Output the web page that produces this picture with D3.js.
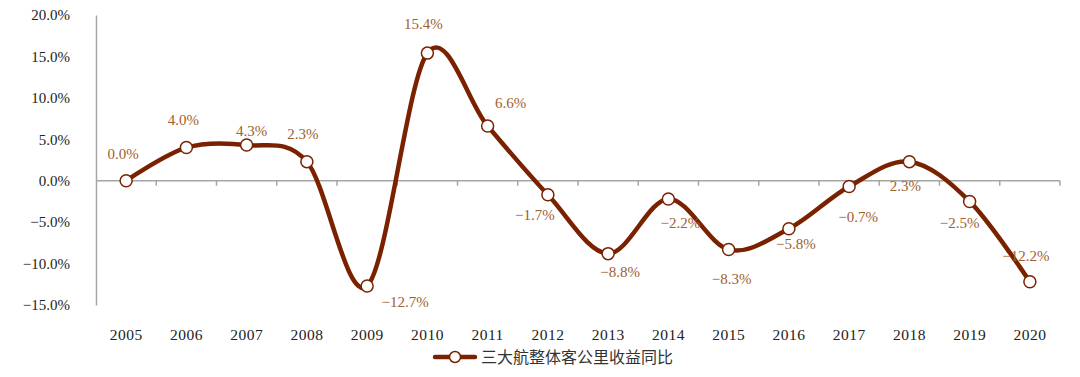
<!DOCTYPE html>
<html>
<head>
<meta charset="utf-8">
<script src="https://cdn.jsdelivr.net/npm/d3@7"></script>
<style>
  body { margin: 0; background: #fff; }
</style>
</head>
<body>
<div id="chart"></div>
<script>
  // data
  var years = ["2005", "2006", "2007", "2008", "2009", "2010", "2011", "2012",
               "2013", "2014", "2015", "2016", "2017", "2018", "2019", "2020"];
  var yoy = [0.0, 4.0, 4.3, 2.3, -12.7, 15.4, 6.6, -1.7, -8.8, -2.2, -8.3, -5.8, -0.7, 2.3, -2.5, -12.2];
  var yTicks = [-15, -10, -5, 0, 5, 10, 15, 20];
  var seriesName = "三大航整体客公里收益同比";

  // where each value label sits relative to its point
  var labelOffsets = [[-3, -27], [-3, -28], [5, -14], [-4, -28], [38, 16], [-4, -29],
                      [23, -23], [-13, 20], [12, 18], [12, 24], [3, 29], [7, 15],
                      [9, 30], [-4, 24], [-10, 21], [-4, -26]];

  var width = 1080, height = 377;
  var serif = "'Liberation Serif', 'Times New Roman', 'DejaVu Serif', serif";
  var lineColor = "#7a2200";
  var labelColor = "#a0602e";
  var axisColor = "#a6a6a6";

  var svg = d3.select("#chart")
      .append("svg")
      .attr("width", width)
      .attr("height", height);

  var x = d3.scaleBand()
      .domain(years)
      .range([96, 1060])
      .padding(0);

  var y = d3.scaleLinear()
      .domain([-15, 20])
      .range([305, 15]);

  var fmt = function (v) { return d3.format(".1f")(v).replace("-", "\u2212") + "%"; };

  // Y axis
  var yAxis = svg.append("g")
      .attr("transform", "translate(96,0)")
      .call(d3.axisLeft(y).tickValues(yTicks).tickSize(0).tickPadding(26).tickFormat(fmt));
  yAxis.attr("font-family", serif).attr("font-size", 15);
  yAxis.select(".domain").attr("stroke", axisColor).attr("stroke-width", 1.5);
  yAxis.selectAll("text").attr("fill", "#222");

  // X axis along zero line
  svg.append("line")
      .attr("x1", 96).attr("x2", 1060)
      .attr("y1", y(0)).attr("y2", y(0))
      .attr("stroke", axisColor).attr("stroke-width", 1.5);

  var bounds = years.map(function (d) { return x(d); }).concat([x.range()[1]]);
  svg.append("g").selectAll("line")
      .data(bounds.slice(1))
      .enter()
      .append("line")
      .attr("x1", function (d) { return d; })
      .attr("x2", function (d) { return d; })
      .attr("y1", y(0))
      .attr("y2", y(0) + 5)
      .attr("stroke", axisColor)
      .attr("stroke-width", 1.5);

  svg.append("g").selectAll("text")
      .data(years)
      .enter()
      .append("text")
      .attr("x", function (d) { return x(d) + x.bandwidth() / 2; })
      .attr("y", 340)
      .attr("text-anchor", "middle")
      .attr("fill", "#222")
      .attr("font-family", serif)
      .attr("font-size", 15.5)
      .attr("letter-spacing", 0.5)
      .text(function (d) { return d; });

  // smoothed line
  var line = d3.line()
      .x(function (d, i) { return x(years[i]) + x.bandwidth() / 2; })
      .y(function (d) { return y(d); })
      .curve(d3.curveCardinal.tension(0));

  svg.append("path")
      .datum(yoy)
      .attr("d", line)
      .attr("fill", "none")
      .attr("stroke", lineColor)
      .attr("stroke-width", 4.5)
      .attr("stroke-linecap", "round");

  svg.append("g").selectAll("circle")
      .data(yoy)
      .enter()
      .append("circle")
      .attr("cx", function (d, i) { return x(years[i]) + x.bandwidth() / 2; })
      .attr("cy", function (d) { return y(d); })
      .attr("r", 6)
      .attr("fill", "#fff")
      .attr("stroke", lineColor)
      .attr("stroke-width", 1.5);

  // value labels
  svg.append("g").selectAll("text")
      .data(yoy)
      .enter()
      .append("text")
      .attr("x", function (d, i) { return x(years[i]) + x.bandwidth() / 2 + labelOffsets[i][0]; })
      .attr("y", function (d, i) { return y(d) + labelOffsets[i][1]; })
      .attr("dy", "0.35em")
      .attr("text-anchor", "middle")
      .attr("fill", labelColor)
      .attr("font-family", serif)
      .attr("font-size", 15)
      .text(function (d) { return fmt(d); });

  // legend
  var legend = svg.append("g").attr("transform", "translate(435,357)");
  legend.append("line")
      .attr("x1", 0).attr("x2", 40)
      .attr("stroke", lineColor).attr("stroke-width", 4.5)
      .attr("stroke-linecap", "round");
  legend.append("circle")
      .attr("cx", 20).attr("r", 5.5)
      .attr("fill", "#fff").attr("stroke", lineColor).attr("stroke-width", 1.5);
  legend.append("text")
      .attr("x", 46)
      .attr("dy", "0.35em")
      .attr("fill", "#333")
      .attr("font-family", "'Noto Sans CJK SC', sans-serif")
      .attr("font-size", 16)
      .text(seriesName);
</script>
</body>
</html>
